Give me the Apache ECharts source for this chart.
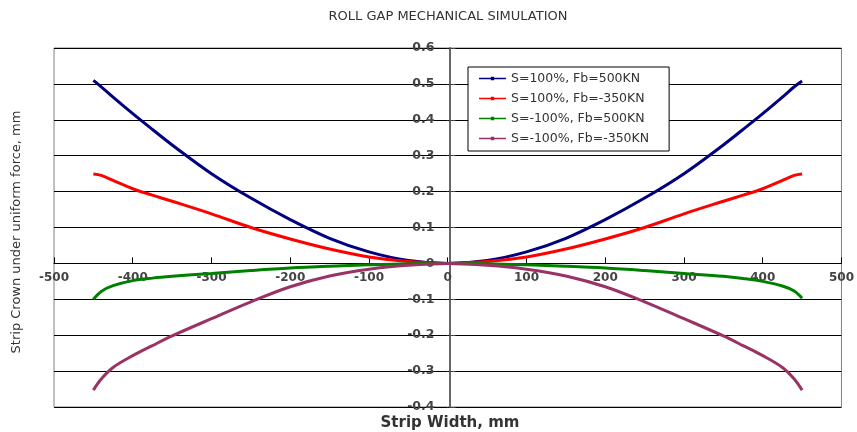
<!DOCTYPE html>
<html>
<head>
<meta charset="utf-8">
<script src="https://cdn.jsdelivr.net/npm/echarts@6/dist/echarts.min.js"></script>
<style>html,body{margin:0;padding:0;background:#fff}#c{width:857px;height:432px}</style>
</head>
<body>
<div id="c"></div>
<script>
const titleText = 'ROLL GAP MECHANICAL SIMULATION';
const xName = 'Strip Width, mm';
const yName = 'Strip Crown under uniform force, mm';
const seriesNames = ['S=100%, Fb=500KN', 'S=100%, Fb=-350KN', 'S=-100%, Fb=500KN', 'S=-100%, Fb=-350KN'];
const seriesColors = ['#000080', '#ff0000', '#008000', '#993366'];
const xs = [-450, -440, -425, -400, -375, -350, -300, -250, -200, -150, -100, -50, 0, 50, 100, 150, 200, 250, 300, 350, 375, 400, 425, 440, 450];
const blue   = [0.510, 0.492, 0.463, 0.417, 0.373, 0.330, 0.250, 0.182, 0.122, 0.070, 0.032, 0.008, 0, 0.008, 0.032, 0.070, 0.122, 0.182, 0.250, 0.330, 0.373, 0.417, 0.463, 0.492, 0.508];
const red    = [0.249, 0.245, 0.231, 0.208, 0.190, 0.173, 0.138, 0.100, 0.068, 0.040, 0.018, 0.005, 0, 0.005, 0.018, 0.040, 0.068, 0.100, 0.138, 0.173, 0.190, 0.208, 0.231, 0.245, 0.249];
const green  = [-0.100, -0.078, -0.062, -0.048, -0.041, -0.036, -0.028, -0.020, -0.013, -0.008, -0.004, -0.001, 0, -0.001, -0.004, -0.008, -0.013, -0.020, -0.028, -0.036, -0.042, -0.050, -0.063, -0.077, -0.097];
const purple = [-0.353, -0.322, -0.290, -0.257, -0.229, -0.202, -0.154, -0.107, -0.065, -0.035, -0.016, -0.005, 0, -0.005, -0.016, -0.035, -0.065, -0.107, -0.154, -0.202, -0.229, -0.257, -0.290, -0.322, -0.353];
const values = [blue, red, green, purple];

const gridLeft = 54, gridRight = 12, gridTop = 48, gridBottom = 25;
const W = 857, H = 432;
const xMin = -500, xMax = 500, yMin = -0.4, yMax = 0.6;
// axis placement through the origin (offsets from grid edges)
const plotW = W - gridLeft - gridRight, plotH = H - gridTop - gridBottom;
const xAxisOffset = -(plotH * (0 - yMin) / (yMax - yMin));
const yAxisOffset = -(plotW * (0 - xMin) / (xMax - xMin));

const chart = echarts.init(document.getElementById('c'), null, {renderer: 'canvas'});
const font = 'DejaVu Sans';
const legendIcon = 'path://M0,9 L27,9 L27,10.4 L0,10.4 Z M11.8,7.9 L15.2,7.9 L15.2,11.5 L11.8,11.5 Z';
chart.setOption({
  animation: false,
  backgroundColor: '#ffffff',
  grid: {left: gridLeft, right: gridRight, top: gridTop, bottom: gridBottom, show: true, borderColor: '#808080', borderWidth: 1, backgroundColor: '#fff'},
  legend: {
    orient: 'vertical', left: 468, top: 67,
    backgroundColor: '#fff', borderColor: '#000', borderWidth: 1,
    padding: [5, 20, 6, 11], itemGap: 7, itemWidth: 27, itemHeight: 14,
    textStyle: {fontFamily: font, fontSize: 12.5, color: '#333'},
    icon: legendIcon,
    data: seriesNames
  },
  xAxis: {
    type: 'value', min: xMin, max: xMax, interval: 100,
    position: 'bottom', offset: xAxisOffset,
    axisLine: {onZero: false, lineStyle: {color: '#000', width: 1}},
    axisTick: {show: true, inside: true, length: 6, lineStyle: {color: '#000'}},
    axisLabel: {margin: 8, fontFamily: font, fontSize: 12, fontWeight: 'bold', color: '#444'},
    splitLine: {show: false}
  },
  yAxis: {
    type: 'value', min: yMin, max: yMax, interval: 0.1,
    position: 'left', offset: yAxisOffset,
    axisLine: {onZero: false, lineStyle: {color: '#666', width: 2}},
    axisTick: {show: true, inside: true, length: 6, lineStyle: {color: '#444'}},
    axisLabel: {margin: 15, fontFamily: font, fontSize: 12.5, fontWeight: 'bold', color: '#444',
      formatter: v => (Math.round(v * 10) / 10).toString()},
    splitLine: {show: true, lineStyle: {color: '#000', width: 1}}
  },
  graphic: [
    {type: 'text', x: 448, y: 17, style: {text: titleText, font: '13px "DejaVu Sans"', fill: '#333', textAlign: 'center', textVerticalAlign: 'middle'}},
    {type: 'text', x: 450, y: 423, style: {text: xName, font: 'bold 15px "DejaVu Sans"', fill: '#333', textAlign: 'center', textVerticalAlign: 'middle'}},
    {type: 'text', x: 17, y: 232, rotation: Math.PI / 2, style: {text: yName, font: '13px "DejaVu Sans"', fill: '#333', textAlign: 'center', textVerticalAlign: 'middle'}}
  ],
  series: values.map((arr, i) => ({
    name: seriesNames[i], type: 'line', smooth: 0.35,
    symbol: 'circle', symbolSize: 4, showSymbol: false,
    color: seriesColors[i],
    lineStyle: {width: 3, color: seriesColors[i]},
    data: xs.map((x, j) => [x, arr[j]]),
    z: 3
  }))
});
</script>
</body>
</html>
